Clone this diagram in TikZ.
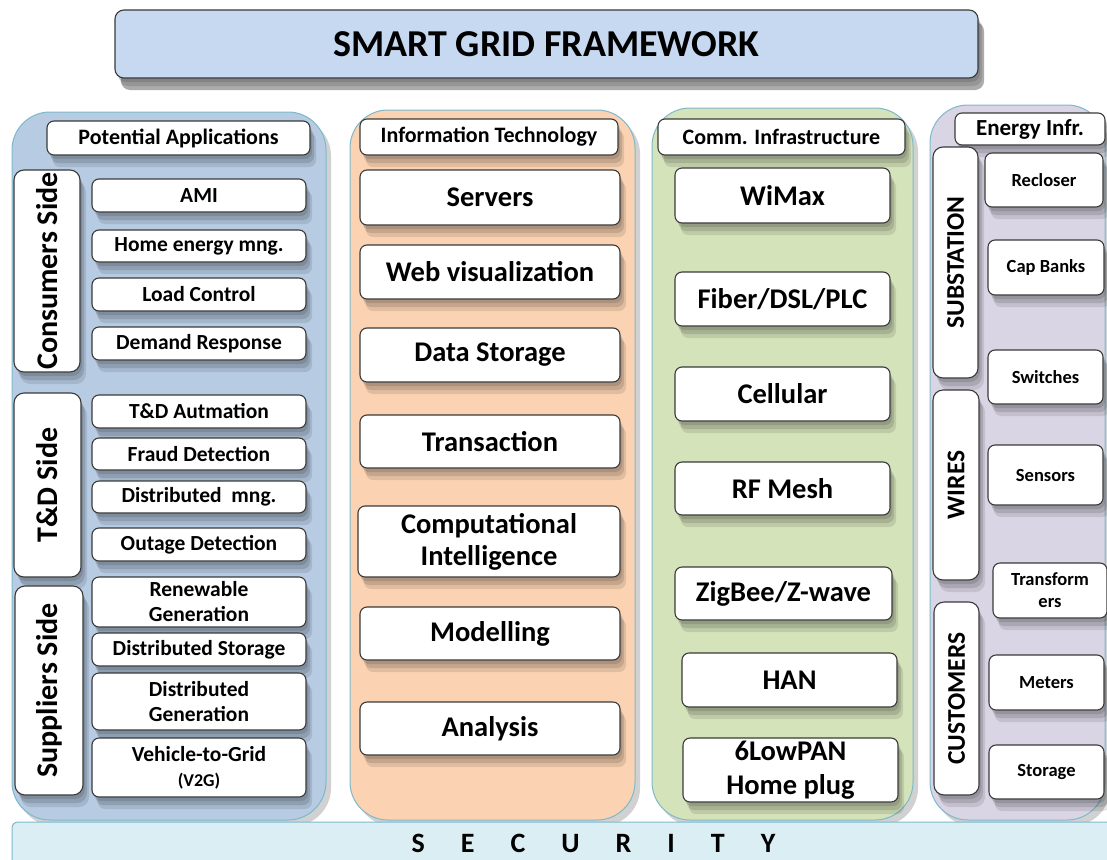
\documentclass[tikz,border=0pt]{standalone}
\usepackage{fontspec}
\setmainfont{Carlito}
\usetikzlibrary{shadows, positioning}

\definecolor{titlefill}{HTML}{C6D9F1}
\definecolor{appsfill}{HTML}{B7CBE3}
\definecolor{itfill}{HTML}{FBD3B3}
\definecolor{commfill}{HTML}{D5E3BA}
\definecolor{enfill}{HTML}{DAD5E4}
\definecolor{secfill}{HTML}{DAEEF3}
\definecolor{panelline}{HTML}{7DB9CC}
\definecolor{boxline}{HTML}{3A3A3A}

\begin{document}
\begin{tikzpicture}[x=1pt, y=-1pt,
  sz/.style 2 args={minimum width=#1pt, minimum height=#2pt},
  softshadow/.style={
    drop shadow={shadow xshift=2pt, shadow yshift=-4pt, opacity=0.12, fill=black},
    drop shadow={shadow xshift=4pt, shadow yshift=-8pt, opacity=0.12, fill=black},
    drop shadow={shadow xshift=6pt, shadow yshift=-12pt, opacity=0.10, fill=black}},
  box/.style={draw=boxline, line width=1.1pt, fill=white, rounded corners=7pt,
    align=center, inner sep=0pt, text=black, softshadow},
  panel/.style={draw=panelline, line width=1pt, rounded corners=38pt, inner sep=0pt,
    drop shadow={shadow xshift=5pt, shadow yshift=-6pt, opacity=0.18, fill=black}},
  hdr/.style={box, font=\bfseries\fontsize{22}{26}\selectfont},
  appitem/.style={box, font=\bfseries\fontsize{21.5}{25}\selectfont},
  bigitem/.style={box, font=\bfseries\fontsize{28.5}{32}\selectfont},
  enitem/.style={box, font=\bfseries\fontsize{18.5}{22}\selectfont},
  side/.style={box, rotate=90, rounded corners=10pt, font=\bfseries\fontsize{30}{34}\selectfont},
  enside/.style={side, font=\bfseries\fontsize{25.5}{28}\selectfont}]

  \useasboundingbox (0,0) rectangle (1107,859);
  \clip (0,0) rectangle (1107,859);
  \fill[white] (0,0) rectangle (1107,859);

  \node[box, fill=titlefill, sz={863}{68}, rounded corners=9pt,
    drop shadow={shadow xshift=6pt, shadow yshift=-12pt, opacity=0.25, fill=black},
    font=\bfseries\fontsize{38}{40}\selectfont] (title) at (546.5,44) {SMART GRID FRAMEWORK};

  \node[panel, fill=appsfill, sz={314}{708}] (apps) at (169,466) {};
  \node[panel, fill=itfill, sz={285}{710}] (it) at (492.5,465) {};
  \node[panel, fill=commfill, sz={261}{712}] (comm) at (782.5,464) {};
  \node[panel, fill=enfill, sz={175}{715}] (energy) at (1017.5,462.5) {};

  \node[draw=panelline, line width=1pt, fill=secfill, rounded corners=6pt, sz={1120}{60}] (security) at (572,852) {};
  \node[anchor=base, font=\bfseries\fontsize{28}{30}\selectfont] (sectext) at (593.5,852)
    {S\hspace{36pt}E\hspace{36pt}C\hspace{36pt}U\hspace{36pt}R\hspace{36pt}I\hspace{36pt}T\hspace{36pt}Y};

  \node[hdr, sz={263}{34}] (appshdr) at (178.5,138) {Potential Applications};
  \node[side, sz={202}{66}] (consumers) at (47,271) {Consumers Side};
  \node[side, sz={184}{67}] (tdside) at (47.5,485) {T\&D Side};
  \node[side, sz={209}{68}] (suppliers) at (49,690.5) {Suppliers Side};

  \node[appitem, sz={214}{33}] (ami) at (199,195.5) {AMI};
  \node[appitem, sz={214}{32}] (home) at (199,246) {Home energy mng.};
  \node[appitem, sz={214}{33}] (load) at (199,294.5) {Load Control};
  \node[appitem, sz={214}{33}] (demand) at (199,343.5) {Demand Response};
  \node[appitem, sz={214}{33}] (tdauto) at (199,411.5) {T\&D Autmation};
  \node[appitem, sz={214}{32}] (fraud) at (199,454) {Fraud Detection};
  \node[appitem, sz={214}{32}] (distmng) at (199,497) {Distributed~ mng.};
  \node[appitem, sz={214}{33}] (outage) at (199,544.5) {Outage Detection};
  \node[appitem, sz={214}{50}] (renew) at (199,602) {Renewable\\Generation};
  \node[appitem, sz={214}{33}] (diststor) at (199,649.5) {Distributed Storage};
  \node[appitem, sz={214}{57}] (distgen) at (199,701.5) {Distributed\\Generation};
  \node[appitem, sz={214}{59}] (v2g) at (199,767.5)
    {Vehicle-to-Grid\\{\fontsize{18}{22}\selectfont(V2G)}};

  \node[hdr, sz={258}{36}] (ithdr) at (489,137) {Information Technology};
  \node[bigitem, sz={260}{55}] (servers) at (490,197.5) {Servers};
  \node[bigitem, sz={260}{54}] (webvis) at (490,272) {Web visualization};
  \node[bigitem, sz={260}{54}] (datastor) at (490,355) {Data Storage};
  \node[bigitem, sz={260}{53}] (transact) at (490,441.5) {Transaction};
  \node[bigitem, sz={262}{71}] (compint) at (489,541.5) {Computational\\Intelligence};
  \node[bigitem, sz={260}{53}] (model) at (490,633.5) {Modelling};
  \node[bigitem, sz={260}{53}] (analysis) at (490,728.5) {Analysis};

  \node[hdr, sz={247}{36}] (commhdr) at (781.5,137) {Comm. Infrastructure};
  \node[bigitem, sz={215}{55}] (wimax) at (782.5,195.5) {WiMax};
  \node[bigitem, sz={215}{54}] (fiber) at (782.5,299) {Fiber/DSL/PLC};
  \node[bigitem, sz={215}{54}] (cell) at (782.5,394) {Cellular};
  \node[bigitem, sz={215}{53}] (rfmesh) at (782.5,488.5) {RF Mesh};
  \node[bigitem, sz={217}{53}] (zigbee) at (783.5,593.5) {ZigBee/Z-wave};
  \node[bigitem, sz={215}{54}] (han) at (789.5,680) {HAN};
  \node[bigitem, sz={215}{64}, font=\bfseries\fontsize{28.5}{34}\selectfont] (lowpan) at (790.5,770) {6LowPAN\\Home plug};

  \node[hdr, sz={150}{32}, font=\bfseries\fontsize{23}{26}\selectfont] (enhdr) at (1030,129) {Energy Infr.};
  \node[enside, sz={231}{45}] (substation) at (955.5,262.5) {SUBSTATION};
  \node[enside, sz={190}{46}] (wires) at (956,485) {WIRES};
  \node[enside, sz={193}{45}] (customers) at (956.5,698.5) {CUSTOMERS};

  \node[enitem, sz={118}{54}] (recloser) at (1044,180) {Recloser};
  \node[enitem, sz={116}{55}] (capbanks) at (1046,267.5) {Cap Banks};
  \node[enitem, sz={115}{54}] (switches) at (1045.5,377) {Switches};
  \node[enitem, sz={115}{60}] (sensors) at (1045.5,475) {Sensors};
  \node[enitem, sz={114}{55}] (transf) at (1050,590.5) {Transform\\ers};
  \node[enitem, sz={115}{55}] (meters) at (1046.5,682.5) {Meters};
  \node[enitem, sz={115}{54}] (storage) at (1046.5,772) {Storage};
\end{tikzpicture}
\end{document}
